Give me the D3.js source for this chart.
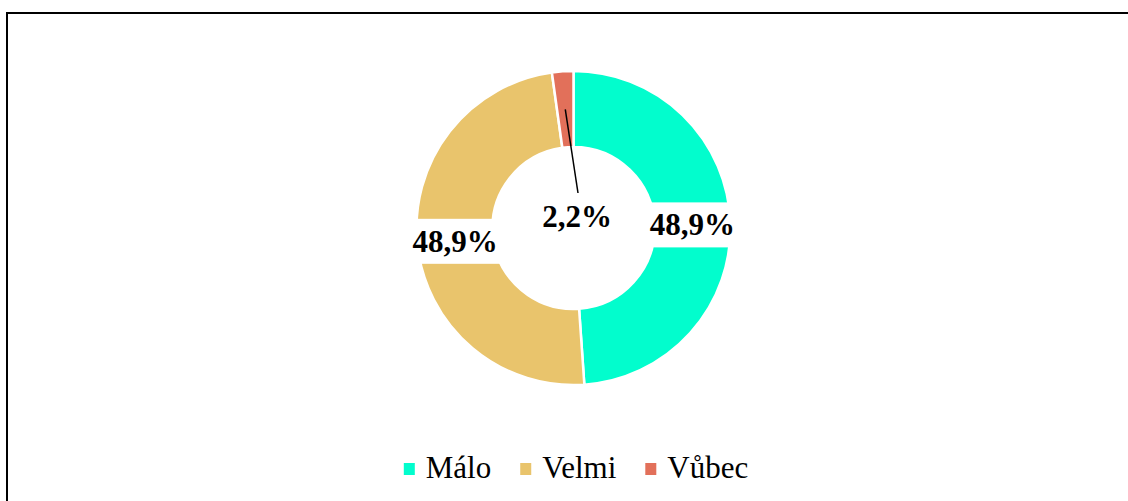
<!DOCTYPE html>
<html>
<head>
<meta charset="utf-8">
<script src="https://cdn.jsdelivr.net/npm/d3@7"></script>
<style>
  body { margin: 0; background: #fff; }
  svg { display: block; }
</style>
</head>
<body>
<script>
// data
var categories = ["Málo", "Velmi", "Vůbec"];
var values = [48.9, 48.9, 2.2];
var labels = ["48,9%", "48,9%", "2,2%"];
var colors = ["#02FDCD", "#E9C46C", "#E2705A"];

// svg container
var svgWidth = 1128;
var svgHeight = 501;

var svg = d3.select("body").append("svg")
    .attr("width", svgWidth)
    .attr("height", svgHeight);

// frame
svg.append("rect")
    .attr("x", 7)
    .attr("y", 13)
    .attr("width", svgWidth)
    .attr("height", svgHeight)
    .attr("fill", "none")
    .attr("stroke", "#000")
    .attr("stroke-width", 2);

var cx = 573.5, cy = 228;
var outerR = 157, innerR = 81;

var chartGroup = svg.append("g")
    .attr("transform", `translate(${cx}, ${cy})`);

var pie = d3.pie().sort(null).value(d => d);
var arcs = pie(values);

var arc = d3.arc().innerRadius(innerR).outerRadius(outerR);

chartGroup.selectAll("path")
    .data(arcs)
    .enter()
    .append("path")
    .attr("d", arc)
    .attr("fill", (d, i) => colors[i])
    .attr("stroke", "#fff")
    .attr("stroke-width", 2.5);

var font = "'Liberation Serif', 'Times New Roman', serif";
var fontSize = "31px";

// labels for the big slices sit on the ring with a white box behind
arcs.forEach(function(d, i) {
    if (values[i] < 5) return;
    var c = arc.centroid(d);
    var base = c[1] + 11.5;
    var g = chartGroup.append("g");
    var t = g.append("text")
        .attr("x", c[0])
        .attr("y", base)
        .attr("text-anchor", "middle")
        .attr("font-family", font)
        .attr("font-weight", "bold")
        .attr("font-size", fontSize)
        .attr("fill", "#000")
        .text(labels[i]);
    var w = t.node().getComputedTextLength();
    g.insert("rect", "text")
        .attr("x", c[0] - w / 2 - 3)
        .attr("y", base - 33)
        .attr("width", w + 6)
        .attr("height", 45)
        .attr("fill", "#fff");
});

// small slice: label pulled into the hole with a leader line
arcs.forEach(function(d, i) {
    if (values[i] >= 5) return;
    var c = arc.centroid(d);
    var lx = 3.5, ly = -1;
    chartGroup.append("line")
        .attr("x1", c[0])
        .attr("y1", c[1])
        .attr("x2", lx + 1)
        .attr("y2", ly - 34)
        .attr("stroke", "#000")
        .attr("stroke-width", 1.5);
    chartGroup.append("text")
        .attr("x", lx)
        .attr("y", ly)
        .attr("text-anchor", "middle")
        .attr("font-family", font)
        .attr("font-weight", "bold")
        .attr("font-size", fontSize)
        .attr("fill", "#000")
        .text(labels[i]);
});

// legend
var legend = svg.append("g");
var x = 0;
var legendY = 478;
categories.forEach(function(name, i) {
    legend.append("rect")
        .attr("x", x)
        .attr("y", legendY - 15)
        .attr("width", 11)
        .attr("height", 12)
        .attr("fill", colors[i]);
    var t = legend.append("text")
        .attr("x", x + 22)
        .attr("y", legendY)
        .attr("font-family", font)
        .attr("font-size", fontSize)
        .attr("fill", "#000")
        .text(name);
    x += 22 + t.node().getComputedTextLength() + 29;
});
var legendW = x - 29;
legend.attr("transform", `translate(${576 - legendW / 2}, 0)`);
</script>
</body>
</html>
